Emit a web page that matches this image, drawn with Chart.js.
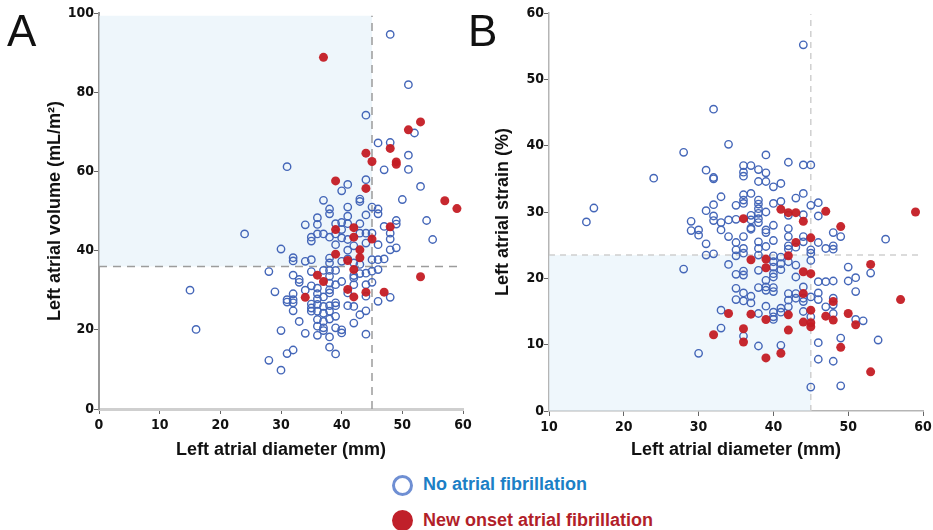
<!DOCTYPE html>
<html>
<head>
<meta charset="utf-8">
<script src="https://cdn.jsdelivr.net/npm/chart.js@4.4.1/dist/chart.umd.min.js"></script>
<style>
  html, body { margin:0; padding:0; background:#fff; }
  body { width:933px; height:530px; position:relative; overflow:hidden; font-family:'Liberation Sans', Arial, sans-serif; }
  .panel { position:absolute; top:0; height:470px; }
  .tag { position:absolute; font-size:44px; font-weight:400; color:#111; line-height:1; }
  .leg-text { position:absolute; font-size:18px; font-weight:700; line-height:1; white-space:nowrap; }
  .leg-dot { position:absolute; width:21px; height:21px; border-radius:50%; box-sizing:border-box; }
</style>
</head>
<body>
<div class="panel" style="left:0;width:490px"><canvas id="cA" width="490" height="470"></canvas></div>
<div class="panel" style="left:470px;width:480px"><canvas id="cB" width="480" height="470"></canvas></div>
<div class="tag" style="left:7px;top:9px">A</div>
<div class="tag" style="left:468px;top:9px">B</div>

<div class="leg-dot" style="left:392px;top:475px;border:3px solid #6f8fd3"></div>
<div class="leg-text" style="left:423px;top:475px;color:#1c7fc6">No atrial fibrillation</div>
<div class="leg-dot" style="left:392px;top:510px;background:#c0202a"></div>
<div class="leg-text" style="left:423px;top:511px;color:#b21f2a">New onset atrial fibrillation</div>

<script>
// ---------- Panel A: left atrial diameter (mm) vs left atrial volume (mL/m²) ----------
const aDiamNoAF = [48,51,44,52,46,48,51,47,51,31,44,41,40,53,37,43,43,50,38,38,41,45,46,46,44,54,55,49,49,24,15,16,30,28,29,30,28,30,31,32,32,32,32,33,33,31,31,32,32,32,32,33,34,34,34,34,35,35,35,35,35,35,35,35,36,36,36,36,36,36,36,36,36,36,36,37,37,37,37,37,37,37,37,38,38,38,38,38,38,38,38,38,38,38,38,38,39,39,39,39,39,39,39,39,39,39,40,40,40,40,40,40,40,41,41,41,41,41,41,41,42,42,42,42,42,42,42,43,43,43,43,43,44,44,44,44,44,44,44,45,45,45,45,46,46,46,46,47,47,48,48,48,48,49];
const aVolNoAF  = [94.6,81.9,74.2,69.7,67.2,67.3,64.1,60.4,60.5,61.2,57.9,56.7,55.1,56.2,52.7,53.0,52.4,52.9,50.5,49.3,51.0,51.0,50.5,49.3,49.0,47.6,42.8,47.6,46.7,44.2,30.0,20.1,40.4,34.7,29.6,19.8,12.3,9.8,14.0,14.9,38.2,37.4,33.8,32.7,32.0,27.6,27.0,29.1,27.6,26.8,24.8,22.1,46.5,37.3,30.0,19.1,43.4,42.4,37.7,34.7,31.1,26.5,25.5,24.7,48.3,46.6,44.2,30.5,29.1,27.8,26.4,24.7,22.6,20.9,18.6,44.2,35.0,28.3,25.9,24.2,22.1,20.5,19.8,43.4,38.1,36.9,35.0,33.5,31.8,30.1,29.3,26.1,24.7,22.7,18.2,15.6,46.8,44.2,41.5,35.0,31.4,26.8,26.1,23.4,20.5,13.9,47.1,45.3,43.2,37.3,32.2,20.0,19.2,48.7,46.8,42.8,40.1,37.9,29.3,26.1,41.2,36.9,33.7,33.1,31.4,25.9,21.7,46.8,44.4,36.5,34.2,23.8,44.4,41.9,34.3,31.4,28.5,24.8,18.9,44.4,37.7,34.8,32.0,41.5,37.7,35.2,27.2,46.1,37.9,44.4,42.9,40.2,28.2,40.7];
const aDiamAF = [37,53,51,48,44,45,49,49,39,44,57,59,39,42,42,45,48,43,39,43,41,42,36,37,53,41,44,47,34,42];
const aVolAF  = [88.8,72.5,70.5,65.8,64.6,62.5,62.4,61.8,57.6,55.7,52.6,50.6,45.3,45.8,43.4,42.9,46.0,40.2,39.1,38.2,37.5,35.2,33.8,32.2,33.4,30.2,29.5,29.5,28.2,28.3];

// ---------- Panel B: left atrial diameter (mm) vs left atrial strain (%) ----------
const bDiamNoAF = [44,32,34,28,24,16,15,39,42,44,45,31,32,32,36,36,36,37,38,39,39,38,40,41,33,36,36,36,37,38,38,38,38,38,38,39,40,41,43,44,45,46,32,31,35,29,29,30,30,32,32,33,33,34,34,35,37,37,37,37,39,39,40,42,42,42,44,44,46,48,49,55,31,35,35,35,36,36,36,38,38,38,39,40,42,42,43,44,45,45,46,47,48,48,31,32,28,34,40,40,40,40,40,41,41,41,42,43,43,45,39,39,39,38,38,36,36,35,35,35,36,36,37,37,40,40,42,42,43,43,44,44,44,45,46,46,46,47,48,48,48,50,50,51,51,53,33,38,39,40,40,40,41,41,42,44,45,47,48,51,52,54,33,36,38,41,30,46,49,46,48,45,49];
const bStrainNoAF = [55.2,45.5,40.2,39.0,35.1,30.6,28.5,38.6,37.5,37.1,37.1,36.3,35.2,35.0,37.0,36.0,35.4,37.0,36.4,35.9,34.6,34.6,33.8,34.3,32.3,32.6,31.8,31.3,32.8,31.8,31.2,30.5,29.8,29.0,28.4,30.0,31.3,31.6,32.1,32.8,31.0,31.4,31.1,30.2,31.0,28.6,27.2,27.3,26.5,29.4,28.7,28.4,27.3,28.8,26.3,28.9,29.5,28.8,27.6,27.4,27.3,26.9,28.0,29.5,27.5,26.3,29.6,26.3,29.4,26.9,26.3,25.9,25.2,25.4,24.3,23.4,26.3,24.5,23.8,25.5,24.5,23.5,24.8,25.7,24.9,24.4,24.7,25.5,24.3,23.8,25.4,24.5,24.9,24.4,23.5,23.7,21.4,22.1,23.4,22.5,21.7,20.7,20.2,23.2,22.2,21.3,22.5,22.0,20.2,22.7,19.7,18.7,18.2,21.2,18.6,21.1,20.5,20.6,18.5,16.8,17.8,16.6,17.3,16.3,18.6,18.0,17.7,16.7,17.7,17.0,18.7,17.0,16.5,17.2,19.5,17.8,16.8,19.5,19.6,17.0,16.0,21.7,19.6,20.1,18.0,20.8,15.2,14.7,15.8,14.9,14.2,13.8,15.5,14.9,15.7,15.0,14.2,15.7,14.7,13.8,13.6,10.7,12.5,11.3,9.8,9.9,8.7,10.3,11.0,7.8,7.5,3.6,3.8];
const bDiamAF = [36,41,42,43,44,47,49,59,43,45,37,39,39,42,44,45,44,53,57,48,45,34,37,39,42,44,45,45,47,48,50,51,32,36,36,42,39,41,49,53];
const bStrainAF = [29.0,30.4,29.9,29.9,28.6,30.1,27.8,30.0,25.4,26.1,22.8,22.9,21.6,23.4,21.0,20.7,17.7,22.1,16.8,16.5,15.2,14.7,14.6,13.8,14.5,13.4,13.3,12.7,14.3,13.7,14.7,13.0,11.5,12.4,10.4,12.2,8.0,8.7,9.6,5.9];

// ---------- axis ticks & reference lines ----------
const aXTicks = [0,10,20,30,40,50,60];
const aYTicks = [0,20,40,60,80,100];
const bXTicks = [10,20,30,40,50,60];
const bYTicks = [0,10,20,30,40,50,60];
const aCutX = 45, aCutY = 36, aShadeTop = 99.3;
const bCutX = 45, bCutY = 23.5;

const pts = (xs, ys) => xs.map((x, i) => ({x: x, y: ys[i]}));

const refPlugin = {
  id: 'refLines',
  beforeDatasetsDraw(chart, args, o) {
    const {ctx} = chart, xs = chart.scales.x, ys = chart.scales.y;
    ctx.save();
    ctx.fillStyle = o.fill;
    const l = xs.getPixelForValue(o.shade[0]), r = xs.getPixelForValue(o.shade[1]);
    const t = ys.getPixelForValue(o.shade[3]), b = ys.getPixelForValue(o.shade[2]);
    ctx.fillRect(l, t, r - l, b - t);
    ctx.strokeStyle = o.color; ctx.lineWidth = o.width; ctx.setLineDash(o.dash);
    ctx.beginPath();
    ctx.moveTo(xs.getPixelForValue(o.vx), ys.getPixelForValue(o.vy[0]));
    ctx.lineTo(xs.getPixelForValue(o.vx), ys.getPixelForValue(o.vy[1]));
    ctx.moveTo(xs.getPixelForValue(o.hx[0]), ys.getPixelForValue(o.hy));
    ctx.lineTo(xs.getPixelForValue(o.hx[1]), ys.getPixelForValue(o.hy));
    ctx.stroke();
    ctx.restore();
  }
};

const tickFont = {family: "'Liberation Sans Narrow','Arial Narrow','DejaVu Sans Condensed',sans-serif", weight: 'bold', size: 14};
const titleFont = {family: "'Liberation Sans',Arial,sans-serif", weight: 'bold', size: 18};

function makeChart(id, noAF, af, cfg) {
  return new Chart(document.getElementById(id), {
    type: 'scatter',
    data: { datasets: [
      { label: 'New onset atrial fibrillation', data: af, order: 0,
        pointRadius: 4.5, pointBackgroundColor: 'rgba(196,28,36,0.95)', pointBorderWidth: 0, pointBorderColor: 'rgba(0,0,0,0)' },
      { label: 'No atrial fibrillation', data: noAF, order: 1,
        pointRadius: 3.7, pointBackgroundColor: 'rgba(0,0,0,0)', pointBorderColor: '#4466b8', pointBorderWidth: 1.4 }
    ]},
    options: {
      responsive: false, animation: false, devicePixelRatio: 1,
      layout: { padding: { top: 13, right: cfg.padRight, bottom: 0, left: 0 } },
      plugins: { legend: { display: false }, tooltip: { enabled: false }, refLines: cfg.ref },
      scales: {
        x: {
          type: 'linear', min: cfg.xTicks[0], max: cfg.xTicks[cfg.xTicks.length - 1],
          afterBuildTicks: s => { s.ticks = cfg.xTicks.map(v => ({value: v})); },
          afterFit: s => { s.height = cfg.xH; },
          border: { color: cfg.xBorder, width: cfg.xBorderW },
          grid: { drawOnChartArea: false, drawTicks: true, tickLength: 5, color: '#666', lineWidth: 1 },
          ticks: { font: tickFont, color: '#111', padding: 3, maxRotation: 0 },
          title: { display: true, text: 'Left atrial diameter (mm)', font: titleFont, color: '#111', padding: { top: 0, bottom: 9 } }
        },
        y: {
          type: 'linear', min: cfg.yTicks[0], max: cfg.yTicks[cfg.yTicks.length - 1],
          afterBuildTicks: s => { s.ticks = cfg.yTicks.map(v => ({value: v})); },
          afterFit: s => { s.width = cfg.yW; },
          border: { color: cfg.yBorder, width: cfg.yBorderW },
          grid: { drawOnChartArea: false, drawTicks: true, tickLength: 5, color: '#666', lineWidth: 1 },
          ticks: { font: tickFont, color: '#111', padding: 0 },
          title: { display: true, text: cfg.yTitle, font: titleFont, color: '#111', padding: { top: cfg.yTitlePad, bottom: 0 } }
        }
      }
    },
    plugins: [refPlugin]
  });
}

makeChart('cA', pts(aDiamNoAF, aVolNoAF), pts(aDiamAF, aVolAF), {
  xTicks: aXTicks, yTicks: aYTicks, xH: 61, yW: 99, padRight: 27, yTitlePad: 44,
  yTitle: 'Left atrial volume (mL/m²)',
  xBorder: '#cfcfcf', xBorderW: 3, yBorder: '#9a9a9a', yBorderW: 2,
  ref: { fill: 'rgba(226,240,249,0.6)', shade: [0, aCutX, aCutY, aShadeTop], color: '#9c9c9c', width: 1.5, dash: [8, 6],
         vx: aCutX, vy: [0, aShadeTop], hx: [0, 60], hy: aCutY }
});

makeChart('cB', pts(bDiamNoAF, bStrainNoAF), pts(bDiamAF, bStrainAF), {
  xTicks: bXTicks, yTicks: bYTicks, xH: 59, yW: 79, padRight: 27, yTitlePad: 22,
  yTitle: 'Left atrial strain (%)',
  xBorder: '#b5b5b5', xBorderW: 1.5, yBorder: '#b5b5b5', yBorderW: 1.5,
  ref: { fill: 'rgba(226,240,249,0.55)', shade: [10, bCutX, 0, bCutY], color: '#cfcfcf', width: 1.5, dash: [6, 5],
         vx: bCutX, vy: [0, 59.8], hx: [10, 60], hy: bCutY }
});
</script>
</body>
</html>
